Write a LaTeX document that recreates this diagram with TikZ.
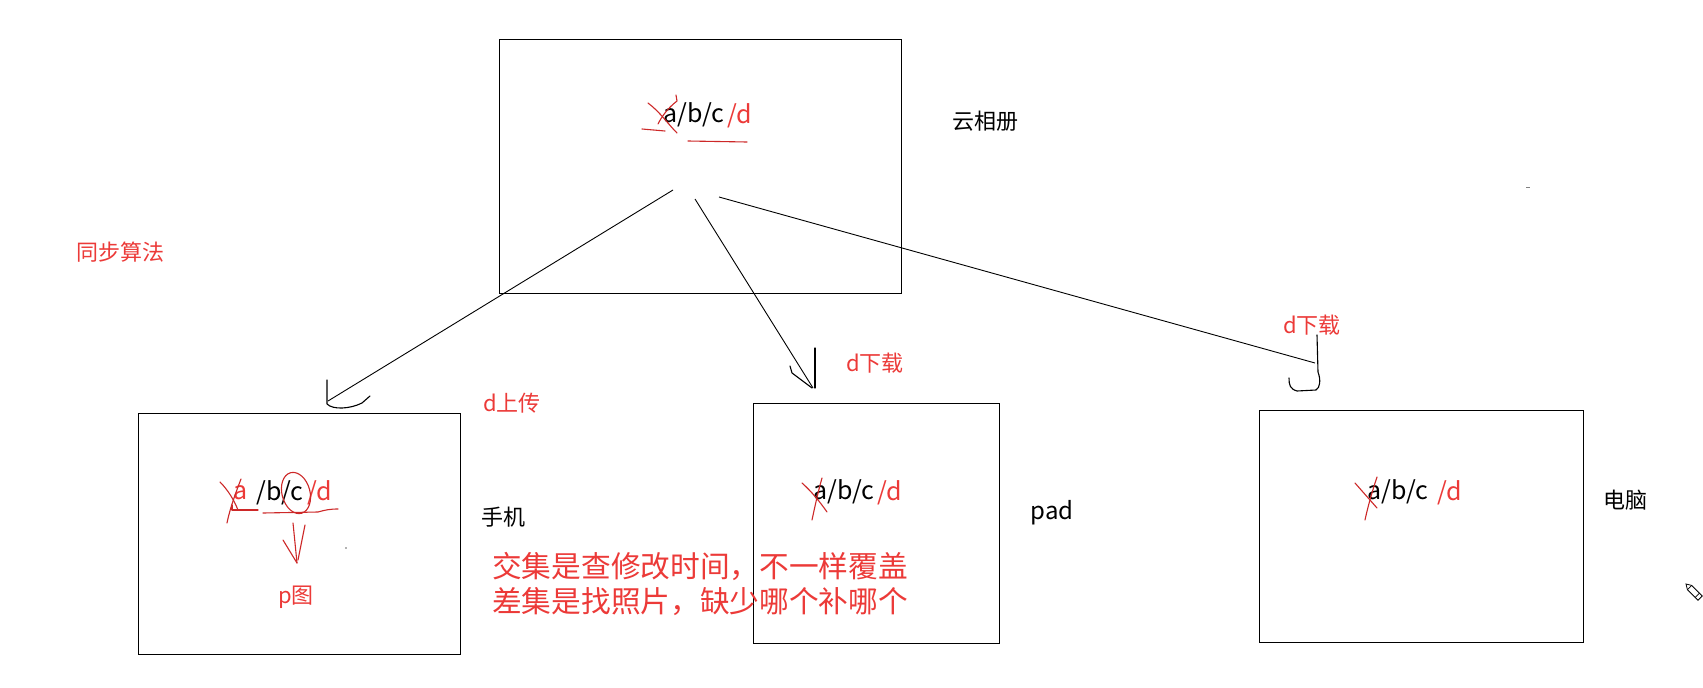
\documentclass[tikz,border=0pt]{standalone}
\usepackage{fontspec}
\setmainfont{Noto Sans CJK SC}
\definecolor{myred}{RGB}{236,58,56}
\definecolor{scred}{RGB}{205,40,40}
\begin{document}
\begin{tikzpicture}[x=1pt,y=-1pt,
  box/.style={draw=black,line width=1.3pt,inner sep=0pt,anchor=north west},
  conn/.style={draw=black,line width=0.9pt},
  scrib/.style={draw=scred,line width=1.1pt,line cap=round,line join=round},
  hand/.style={draw=black,line width=1.1pt,line cap=round,line join=round},
  lbl/.style={inner sep=0pt,font=\fontsize{22}{26}\selectfont},
  rlbl/.style={lbl,text=myred},
  latin/.style={inner sep=0pt,anchor=west,font=\fontsize{25}{30}\selectfont},
  big/.style={inner sep=0pt,anchor=west,text=myred,font=\fontsize{29.7}{34}\selectfont},
]
\useasboundingbox (0,0) rectangle (1703,688);
\fill[white] (0,0) rectangle (1703,688);

% boxes
\node[box,minimum width=402pt,minimum height=254pt] (cloud) at (498.5,39) {};
\node[box,minimum width=322pt,minimum height=241pt] (phone) at (138,413) {};
\node[box,minimum width=246pt,minimum height=240pt] (pad) at (753,403) {};
\node[box,minimum width=324pt,minimum height=232pt] (pc) at (1259,410) {};

% labels
\node[lbl] (lcloud) at (985,121) {云相册};
\node[rlbl] (lsync) at (120,252) {同步算法};
\node[lbl] (lphone) at (503,517) {手机};
\node[lbl,font=\fontsize{24}{28}\selectfont] (lpad) at (1052,513) {pad};
\node[lbl] (lpc) at (1625,500) {电脑};
\node[rlbl] (lup) at (512,403) {d上传};
\node[rlbl] (ldown1) at (875,363) {d下载};
\node[rlbl] (ldown2) at (1312,325) {d下载};
\node[rlbl] (lp) at (296,597) {p图};
\node[big] (note1) at (492,566) {交集是查修改时间，不一样覆盖};
\node[big] (note2) at (492,602) {差集是找照片，缺少哪个补哪个};

% file lists
\node[latin] (cabc) at (663,115) {a/b/c};
\node[latin,text=myred] (cd) at (727,116) {/d};
\node[latin,text=myred] (pa) at (233,493) {a};
\node[latin] (pbc) at (256,493) {/b/c};
\node[latin,text=myred] (pd) at (307,493) {/d};
\node[latin] (dabc) at (813,492) {a/b/c};
\node[latin,text=myred] (dd) at (877,493) {/d};
\node[latin] (eabc) at (1367,492) {a/b/c};
\node[latin,text=myred] (ed) at (1437,493) {/d};

% red scribbles: cloud
\draw[scrib] (648,103) .. controls (660,112) and (668,124) .. (677,133);
\draw[scrib] (676,95) -- (677,101) .. controls (668,108) and (662,116) .. (658,124);
\draw[scrib] (642,129) -- (665,131);
\draw[scrib] (688,141) -- (747,142);
% red scribbles: phone
\draw[scrib] (220,482) .. controls (228,490) and (234,500) .. (238,510);
\draw[scrib] (241,479) .. controls (236,492) and (230,508) .. (227,523);
\draw[scrib] (232,505) -- (232,510) -- (258,510);
\draw[scrib] (263,513) -- (318,512) .. controls (325,510) and (330,509) .. (338,509);
\draw[scrib,rotate around={15:(296,493)}] (296,493) ellipse [x radius=14, y radius=21];
\draw[scrib] (293,523) -- (297,563);
\draw[scrib] (305,525) -- (298,560);
\draw[scrib] (283,540) -- (297,563);
\fill[black!60] (346,548) circle (0.8);
% red scribbles: pad
\draw[scrib] (802,483) .. controls (812,492) and (820,502) .. (827,512);
\draw[scrib] (822,478) .. controls (818,492) and (815,506) .. (812,520);
% red scribbles: pc
\draw[scrib] (1355,483) .. controls (1362,491) and (1370,500) .. (1377,508);
\draw[scrib] (1377,477) .. controls (1372,492) and (1368,506) .. (1365,520);

% connectors
\coordinate (s1) at (673,190); \coordinate (e1) at (328,401);
\coordinate (s2) at (695,199); \coordinate (e2) at (813,388);
\coordinate (s3) at (719,197); \coordinate (e3) at (1315,363);
\draw[conn] (s1) -- (e1);
\draw[conn] (s2) -- (e2);
\draw[conn] (s3) -- (e3);
% hand-drawn arrowheads
\draw[hand] (327,380) -- (327,404) .. controls (333,410) and (350,409) .. (362,403) -- (370,396);
\draw[hand] (815,348) -- (815,388);
\draw[hand] (790,366) -- (792,373) -- (812,388);
\draw[hand] (1317,335) -- (1318,372) .. controls (1321,380) and (1320,388) .. (1316,390) -- (1297,391) .. controls (1290,389) and (1289,385) .. (1289,378);

% small marks
\draw[black!50,line width=0.8pt] (1526,187) -- (1530,187);
% pencil
\begin{scope}[shift={(1686,584)},rotate=-45,line width=0.8pt]
  \draw (0,0) -- (5,-3) -- (20,-3) -- (20,3) -- (5,3) -- cycle;
  \draw (5,-3) -- (5,3);
  \draw (16,-3) -- (16,3);
\end{scope}
\end{tikzpicture}
\end{document}
